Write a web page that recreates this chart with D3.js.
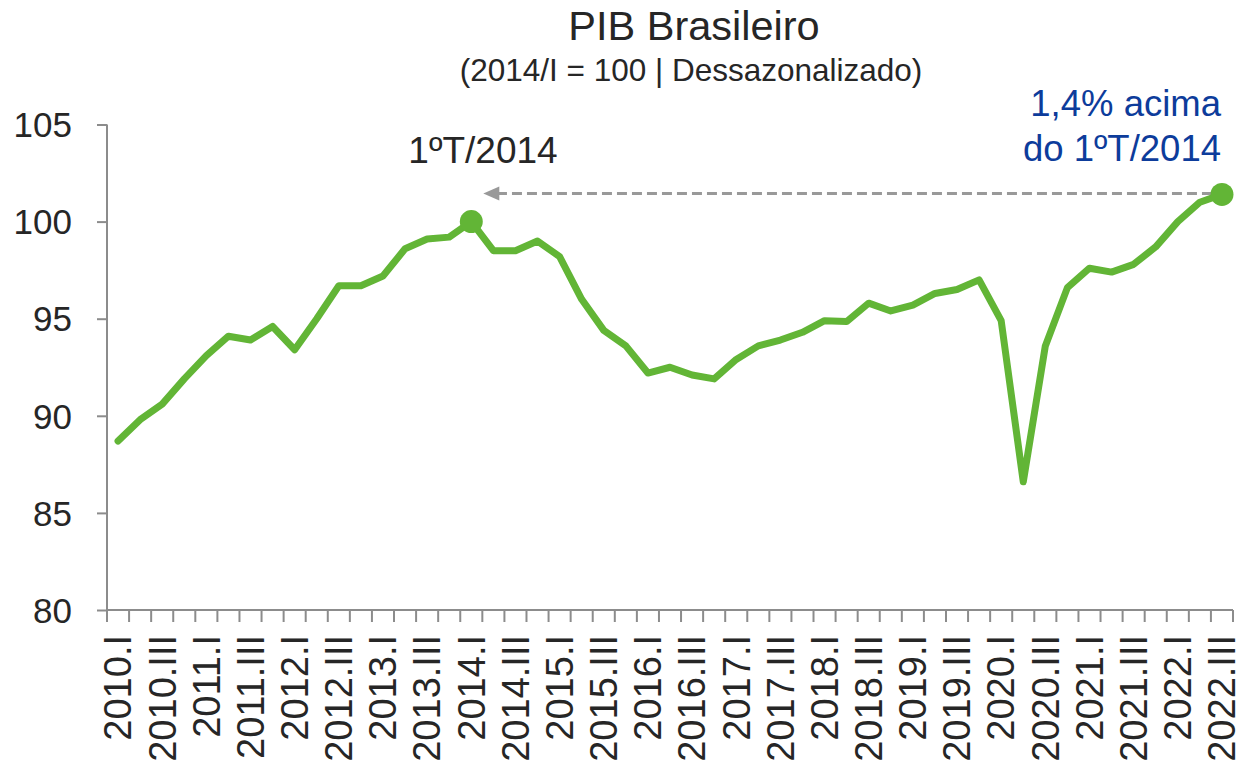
<!DOCTYPE html>
<html>
<head>
<meta charset="utf-8">
<script src="https://cdn.jsdelivr.net/npm/d3@7"></script>
<style>
  html, body { margin: 0; padding: 0; background: #fff; }
  svg { display: block; font-family: Arial, "Liberation Sans", sans-serif; }
</style>
</head>
<body>
<svg id="chart" width="1238" height="763"></svg>
<script>
const years = ["2010","2011","2012","2013","2014","2015","2016","2017","2018","2019","2020","2021","2022"];
const quarterNames = ["I","II","III","IV"];
const categories = [];
years.forEach(yr => quarterNames.forEach(q => categories.push(yr + "." + q)));
categories.splice(51); // data ends at 2022.III

const gdpValues = [
  88.7, 89.8, 90.6, 91.9,
  93.1, 94.1, 93.9, 94.6,
  93.4, 95.0, 96.7, 96.7,
  97.2, 98.6, 99.1, 99.2,
  100.0, 98.5, 98.5, 99.0,
  98.2, 96.0, 94.4, 93.6,
  92.2, 92.5, 92.1, 91.9,
  92.9, 93.6, 93.9, 94.3,
  94.9, 94.85, 95.8, 95.4,
  95.7, 96.3, 96.5, 97.0,
  94.9, 86.6, 93.6, 96.6,
  97.6, 97.4, 97.8, 98.7,
  100.0, 101.0, 101.4
];

const xTickLabels = ["2010.I","2010.III","2011.I","2011.III","2012.I","2012.III","2013.I","2013.III",
  "2014.I","2014.III","2015.I","2015.III","2016.I","2016.III","2017.I","2017.III","2018.I","2018.III",
  "2019.I","2019.III","2020.I","2020.III","2021.I","2021.III","2022.I","2022.III"];
const yTicks = [80, 85, 90, 95, 100, 105];

const titleText = "PIB Brasileiro";
const subtitleText = "(2014/I = 100 | Dessazonalizado)";
const baseLabel = "1ºT/2014";
const noteLines = ["1,4% acima", "do 1ºT/2014"];
const baseCategory = "2014.I";
const lastCategory = "2022.III";

const svg = d3.select("#chart");
const plotLeft = 107, plotRight = 1233, plotTop = 124.5, plotBottom = 610;

const x = d3.scaleBand().domain(categories).range([plotLeft, plotRight]).padding(0);
const xc = c => x(c) + x.bandwidth() / 2;
const y = d3.scaleLinear().domain([80, 105]).range([plotBottom, plotTop]);

const axisColor = "#8c8c8c";
const textColor = "#262626";
const green = "#62b536";

// Title
svg.append("text").attr("x", 694).attr("y", 40).attr("text-anchor", "middle")
  .attr("font-size", 41.5).attr("fill", textColor).text(titleText);
svg.append("text").attr("x", 691).attr("y", 81).attr("text-anchor", "middle")
  .attr("font-size", 31.5).attr("fill", textColor).text(subtitleText);

// Y axis
const yAxis = d3.axisLeft(y).tickValues(yTicks).tickSize(10).tickPadding(25);
const gy = svg.append("g").attr("transform", `translate(${plotLeft},0)`).call(yAxis);
gy.select(".domain").remove();
gy.selectAll(".tick line").attr("stroke", axisColor).attr("stroke-width", 2);
gy.selectAll(".tick text").attr("font-size", 35).attr("fill", textColor)
  .attr("font-family", 'Arial, "Liberation Sans", sans-serif').attr("dy", "0.35em");
svg.append("line").attr("x1", plotLeft).attr("x2", plotLeft).attr("y1", plotTop).attr("y2", plotBottom + 12)
  .attr("stroke", axisColor).attr("stroke-width", 2);

// X axis line and boundary ticks
svg.append("line").attr("x1", plotLeft).attr("x2", plotRight).attr("y1", plotBottom).attr("y2", plotBottom)
  .attr("stroke", axisColor).attr("stroke-width", 2);
const boundaries = categories.map(c => x(c)).concat([plotRight]);
svg.append("g").selectAll("line").data(boundaries).join("line")
  .attr("x1", d => d).attr("x2", d => d).attr("y1", plotBottom).attr("y2", plotBottom + 12)
  .attr("stroke", axisColor).attr("stroke-width", 2);

// X labels
const xAxis = d3.axisBottom(x).tickValues(xTickLabels).tickSize(0);
const gx = svg.append("g").attr("transform", `translate(0,${plotBottom})`).call(xAxis);
gx.select(".domain").remove();
gx.selectAll(".tick text")
  .attr("font-size", 38).attr("fill", textColor)
  .attr("font-family", 'Arial, "Liberation Sans", sans-serif')
  .attr("text-anchor", "end")
  .attr("transform", "rotate(-90)")
  .attr("x", -25).attr("y", 0).attr("dy", "0.35em");

// Line
const line = d3.line().x((d, i) => xc(categories[i])).y(d => y(d));
svg.append("path").datum(gdpValues).attr("d", line)
  .attr("fill", "none").attr("stroke", green).attr("stroke-width", 7)
  .attr("stroke-linejoin", "round").attr("stroke-linecap", "round");

// Dashed arrow
const iBase = categories.indexOf(baseCategory);
const iLast = categories.indexOf(lastCategory);
const yLast = y(gdpValues[iLast]);
const arrowTipX = xc(baseCategory) + 12;
svg.append("line").attr("x1", xc(lastCategory) - 10).attr("x2", arrowTipX + 14)
  .attr("y1", yLast - 1).attr("y2", yLast - 1)
  .attr("stroke", "#999999").attr("stroke-width", 3).attr("stroke-dasharray", "10,5");
svg.append("path")
  .attr("d", `M${arrowTipX},${yLast - 1} L${arrowTipX + 16},${yLast - 8} L${arrowTipX + 16},${yLast + 6} Z`)
  .attr("fill", "#999999");

// Markers
svg.append("g").selectAll("circle").data([iBase, iLast]).join("circle")
  .attr("cx", i => xc(categories[i])).attr("cy", i => y(gdpValues[i])).attr("r", 11.5)
  .attr("fill", green);

// Annotations
svg.append("text").attr("x", 483).attr("y", 163).attr("text-anchor", "middle")
  .attr("font-size", 37).attr("fill", textColor).text(baseLabel);
svg.append("g").selectAll("text").data(noteLines).join("text")
  .attr("x", 1221).attr("y", (d, i) => 116 + i * 45).attr("text-anchor", "end")
  .attr("font-size", 36.5).attr("fill", "#0d3c9b").text(d => d);
</script>
</body>
</html>
